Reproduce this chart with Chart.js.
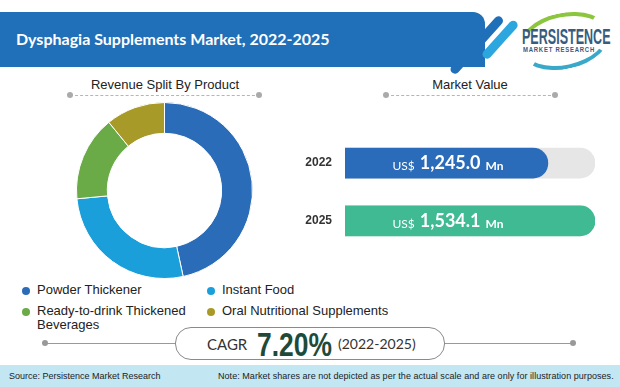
<!DOCTYPE html>
<html>
<head>
<meta charset="utf-8">
<script src="https://cdn.jsdelivr.net/npm/chart.js@4"></script>
<style>
  body { margin: 0; width: 620px; height: 387px; background: #fff; position: relative; overflow: hidden; font-family: "Liberation Sans", Arial, sans-serif; }
  .abs { position: absolute; }
  #band { left: 0; top: 12px; width: 485px; height: 55px; background: #1f70b9; border-radius: 0 12px 0 0; }
  #title { left: 16px; top: 29px; color: #fff; font: bold 16px Lato, sans-serif; }
  .stripe { height: 9px; border-radius: 5px; transform-origin: left center; }
  .sub { font-size: 13px; color: #222; text-align: center; }
  .dash { height: 0; border-top: 1px dashed #b5b5b5; }
  .dot { width: 6px; height: 6px; border-radius: 50%; background: #aaa; }
  #legend { left: 22px; top: 283px; width: 360px; font-size: 13px; color: #222; line-height: 14px; }
  .li { position: absolute; padding-left: 15px; width: 170px; }
  .li span { position: absolute; left: 0; top: 4px; width: 8px; height: 8px; border-radius: 50%; }
  #pill { left: 175px; top: 327px; width: 268px; height: 31px; border: 1px solid #8a8a8a; border-radius: 16px; background: #fff; }
  #footer { left: 0; top: 365px; width: 620px; height: 22px; background: #c3e6f3; font-size: 9px; color: #222; }
</style>
</head>
<body>
<div id="band" class="abs"></div>
<div class="abs stripe" style="left:452px;top:68px;width:74px;background:#1f70b9;transform:rotate(-48deg);"></div>
<div class="abs stripe" style="left:484px;top:53px;width:48px;background:#2ba6de;transform:rotate(-48deg);"></div>
<div id="title" class="abs">Dysphagia Supplements Market, 2022-2025</div>
<!-- logo -->
<div class="abs" style="left:518px;top:13px;width:92px;height:56px;border-radius:50%;border:4px solid transparent;border-top-color:#8cc63f;border-bottom-color:#3aa9c9;box-sizing:border-box;transform:rotate(-12deg);"></div>
<div class="abs" style="left:522px;top:24px;font:bold 22px 'Liberation Sans',sans-serif;color:#3b5b7c;transform:scaleX(0.57);transform-origin:left top;white-space:nowrap;">PERSISTENCE</div>
<div class="abs" style="left:523px;top:46px;font:bold 7px 'Liberation Sans',sans-serif;color:#3b5b7c;letter-spacing:0.9px;transform:scaleX(0.85);transform-origin:left top;white-space:nowrap;">MARKET RESEARCH</div>

<div class="abs sub" style="left:65px;top:77px;width:200px;">Revenue Split By Product</div>
<div class="abs dash" style="left:70px;top:95px;width:190px;"></div>
<div class="abs dot" style="left:67px;top:92px;"></div>
<div class="abs dot" style="left:256px;top:92px;"></div>

<div class="abs sub" style="left:370px;top:77px;width:200px;">Market Value</div>
<div class="abs dash" style="left:386px;top:95px;width:170px;"></div>
<div class="abs dot" style="left:383px;top:92px;"></div>
<div class="abs dot" style="left:552px;top:92px;"></div>

<div class="abs" style="left:76px;top:102px;width:177px;height:177px;"><canvas id="pie"></canvas></div>
<div class="abs" style="left:305px;top:122px;width:290px;height:140px;"><canvas id="bars"></canvas></div>

<div id="legend" class="abs"></div>

<div class="abs" style="left:45px;top:343px;width:528px;border-top:1px solid #999;"></div>
<div class="abs dot" style="left:42px;top:340px;background:#999;"></div>
<div class="abs dot" style="left:570px;top:340px;background:#999;"></div>
<div id="pill" class="abs"></div>
<div class="abs" style="left:207px;top:335px;font:15px Lato,sans-serif;color:#333;">CAGR</div>
<div id="cagr" class="abs" style="left:257px;top:326px;font:bold 33px 'Liberation Sans',sans-serif;color:#1e4b39;transform:scaleX(0.8);transform-origin:left top;white-space:nowrap;"></div>
<div id="cagrYears" class="abs" style="left:338px;top:335px;font:14px Lato,sans-serif;color:#333;"></div>

<div id="footer" class="abs">
  <div class="abs" style="left:9px;top:6px;">Source: Persistence Market Research</div>
  <div class="abs" style="left:218px;top:6px;letter-spacing:0.05px;">Note: Market shares are not depicted as per the actual scale and are only for illustration purposes.</div>
</div>

<script>
// donut
const produtos = ['Powder Thickener', 'Instant Food', 'Ready-to-drink Thickened Beverages', 'Oral Nutritional Supplements'];
const participacao = [46.6, 26.9, 15.6, 10.9];
const coresProdutos = ['#2b6cb8', '#1a9fdb', '#6aab47', '#a89a29'];

// market value
const anos = ['2022', '2025'];
const valorMercado = [1245.0, 1534.1];
const coresAnos = ['#2a6cb9', '#3fba93'];
const cagr = '7.20%';
const periodoCagr = '(2022-2025)';

document.getElementById('cagr').innerText = cagr;
document.getElementById('cagrYears').innerText = periodoCagr;

// legenda em 2 colunas
const legendPos = [[0, 0], [185, 0], [0, 21], [185, 21]];
const legend = document.getElementById('legend');
produtos.forEach((p, i) => {
  const d = document.createElement('div');
  d.className = 'li';
  d.style.left = legendPos[i][0] + 'px';
  d.style.top = legendPos[i][1] + 'px';
  d.innerHTML = '<span style="background:' + coresProdutos[i] + '"></span>' + p;
  legend.appendChild(d);
});

new Chart(document.getElementById('pie'), {
  type: 'doughnut',
  data: {
    labels: produtos,
    datasets: [{
      data: participacao,
      backgroundColor: coresProdutos,
      borderColor: '#fff',
      borderWidth: 1
    }]
  },
  options: {
    responsive: true,
    maintainAspectRatio: false,
    animation: false,
    cutout: '65%',
    plugins: { legend: { display: false }, tooltip: { enabled: false } }
  }
});

// texto dentro das barras
const barText = {
  id: 'barText',
  afterDatasetsDraw(chart) {
    const meta = chart.getDatasetMeta(1);
    const c = chart.ctx;
    const cx = chart.chartArea.left + 103;
    meta.data.forEach((bar, i) => {
      const val = valorMercado[i].toLocaleString('en-US', { minimumFractionDigits: 1 });
      c.save();
      c.fillStyle = '#fff';
      c.textBaseline = 'alphabetic';
      const f1 = '12px Lato', f2 = 'bold 18px Lato', f3 = 'bold 12px Lato';
      c.font = f1; const w1 = c.measureText('US$').width;
      c.font = f2; const w2 = c.measureText(val).width;
      c.font = f3; const w3 = c.measureText('Mn').width;
      let x = cx - (w1 + w2 + w3 + 10) / 2;
      const y = bar.y + 6;
      c.textAlign = 'left';
      c.font = f1; c.fillText('US$', x, y + 1); x += w1 + 5;
      c.font = f2; c.fillText(val, x, y); x += w2 + 5;
      c.font = f3; c.fillText('Mn', x, y + 1);
      c.restore();
    });
  }
};

const maxValor = Math.max(...valorMercado);

new Chart(document.getElementById('bars'), {
  type: 'bar',
  data: {
    labels: anos,
    datasets: [{
      data: anos.map(() => maxValor),
      backgroundColor: '#e6e6e6',
      borderRadius: 15,
      borderSkipped: 'start',
      barThickness: 30,
      order: 2
    }, {
      data: valorMercado,
      backgroundColor: coresAnos,
      borderRadius: 15,
      borderSkipped: 'start',
      barThickness: 30,
      order: 1
    }]
  },
  options: {
    indexAxis: 'y',
    responsive: true,
    maintainAspectRatio: false,
    animation: false,
    layout: { padding: 0 },
    datasets: { bar: { grouped: false } },
    scales: {
      x: { display: false, min: 0, max: maxValor },
      y: {
        grid: { display: false },
        border: { display: false },
        afterFit(scale) { scale.width = 40; },
        ticks: {
          color: '#333',
          padding: 5,
          font: { family: 'Liberation Sans', weight: 'bold', size: 12 }
        }
      }
    },
    plugins: { legend: { display: false }, tooltip: { enabled: false } }
  },
  plugins: [barText]
});
</script>
</body>
</html>
